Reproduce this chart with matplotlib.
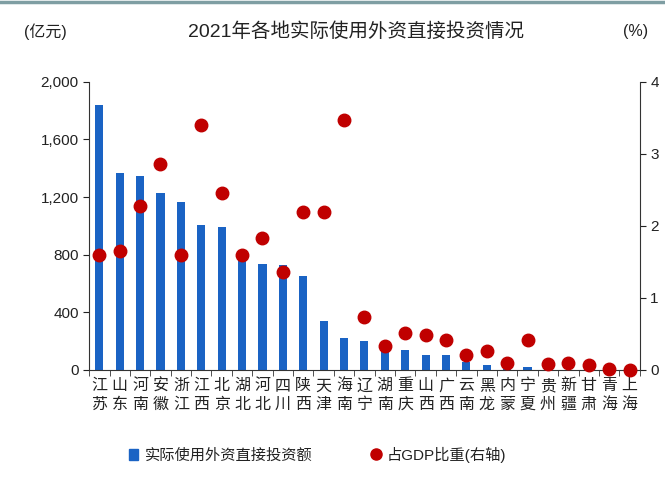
import matplotlib.pyplot as plt
from matplotlib.ticker import FuncFormatter, MultipleLocator
from matplotlib.lines import Line2D
from matplotlib.patches import Patch

plt.rcParams['font.family'] = ['Liberation Sans', 'Noto Sans CJK SC', 'DejaVu Sans']

# data
provinces = ["江苏", "山东", "河南", "安徽", "浙江", "江西", "北京", "湖北", "河北",
             "四川", "陕西", "天津", "海南", "辽宁", "湖南", "重庆", "山西", "广西",
             "云南", "黑龙", "内蒙", "宁夏", "贵州", "新疆", "甘肃", "青海", "上海"]
fdi_amount = [1836, 1368, 1343, 1227, 1168, 1004, 994, 780, 737,
              726, 653, 343, 221, 204, 147, 141, 105, 101,
              53, 36, 6, 19, 5, 3, 2, 1, 1]
gdp_share = [1.59, 1.65, 2.27, 2.86, 1.59, 3.40, 2.46, 1.59, 1.83,
             1.36, 2.19, 2.19, 3.47, 0.74, 0.33, 0.51, 0.48, 0.42,
             0.21, 0.27, 0.10, 0.41, 0.08, 0.09, 0.07, 0.01, 0.0]

bar_color = '#1a63c4'
dot_color = '#c00000'
txt_color = '#222222'

fig = plt.figure(figsize=(6.65, 4.9), dpi=100)
ax = fig.add_axes([0.134, 0.245, 0.828, 0.588])

x = list(range(len(provinces)))
ax.bar(x, fdi_amount, width=0.4, color=bar_color, zorder=2)
ax.set_xlim(-0.5, len(provinces) - 0.5)
ax.set_ylim(0, 2000)
ax.yaxis.set_major_locator(MultipleLocator(400))
ax.yaxis.set_major_formatter(FuncFormatter(lambda v, p: f"{int(v):,}"))

ax.set_xticks(x)
ax.set_xticklabels(["\n".join(p) for p in provinces], fontsize=11.5, color=txt_color,
                   linespacing=1.3)
ax.set_xticks([i - 0.5 for i in range(len(provinces) + 1)], minor=True)
ax.tick_params(axis='x', which='major', length=0, pad=6)
ax.tick_params(axis='x', which='minor', length=4, direction='out', color='#333333')
ax.tick_params(axis='y', labelsize=11, colors=txt_color, length=4)

for s in ['top', 'right']:
    ax.spines[s].set_visible(False)
ax.spines['left'].set_color('#333333')
ax.spines['bottom'].set_color('#333333')

ax2 = ax.twinx()
ax2.plot(x, gdp_share, 'o', color=dot_color, markersize=9, clip_on=False, zorder=3)
ax2.set_ylim(0, 4)
ax2.yaxis.set_major_locator(MultipleLocator(1))
ax2.tick_params(axis='y', labelsize=11, colors=txt_color, length=4)
for s in ['top', 'left', 'bottom']:
    ax2.spines[s].set_visible(False)
ax2.spines['right'].set_color('#333333')

# titles and units
fig.text(0.535, 0.935, "2021年各地实际使用外资直接投资情况", ha='center', va='center',
         fontsize=14, color=txt_color)
fig.text(0.068, 0.935, "(亿元)", ha='center', va='center', fontsize=11.5, color=txt_color)
fig.text(0.955, 0.935, "(%)", ha='center', va='center', fontsize=11.5, color=txt_color)

# legend
handles = [Patch(color=bar_color, label="实际使用外资直接投资额"),
           Line2D([], [], marker='o', linestyle='none', color=dot_color, markersize=8,
                  label="占GDP比重(右轴)")]
fig.legend(handles=handles, loc='center', bbox_to_anchor=(0.478, 0.072), ncol=2,
           frameon=False, fontsize=11, columnspacing=3.9, handlelength=0.6,
           handletextpad=0.4, labelcolor=txt_color)

# top border line
fig.add_artist(Line2D([0, 1], [0.995, 0.995], color='#7f9ea3', linewidth=2.5,
                      transform=fig.transFigure))

fig.savefig("out.png", dpi=100)
